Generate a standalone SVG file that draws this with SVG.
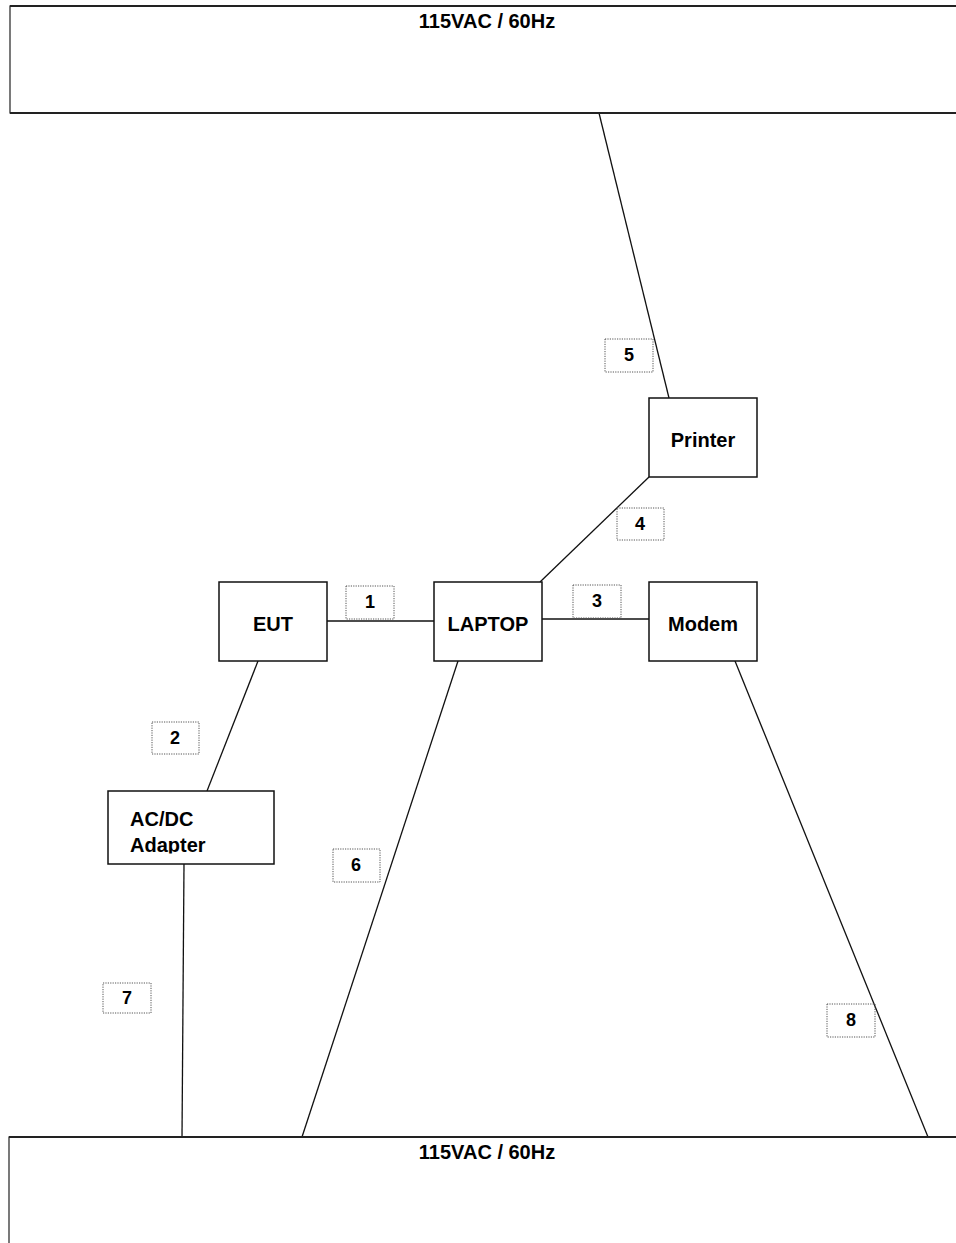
<svg xmlns="http://www.w3.org/2000/svg" width="956" height="1243" viewBox="0 0 956 1243">
<style>
.node{fill:#fff;stroke:#111;stroke-width:1.5}
.pwr{fill:#fff;stroke:#222;stroke-width:1.2}
.pwrtop{stroke:#222;stroke-width:2.2}
.t{font-family:"Liberation Sans",Arial,sans-serif;font-weight:bold;font-size:20px;fill:#000;text-anchor:middle}
.tl{font-family:"Liberation Sans",Arial,sans-serif;font-weight:bold;font-size:20px;fill:#000}
.lb{fill:none;stroke:#555;stroke-width:1;stroke-dasharray:1.2 1.2}
.lt{font-family:"Liberation Sans",Arial,sans-serif;font-weight:bold;font-size:18px;fill:#000;text-anchor:middle}
.c{stroke:#111;stroke-width:1.3;fill:none}
</style>
<defs>
<clipPath id="adclip"><rect x="108" y="791" width="166" height="62.5"/></clipPath>
</defs>
<rect width="956" height="1243" fill="#fff"/>
<g id="connectors">
<line class="c" x1="599" y1="113" x2="669" y2="398"/>
<line class="c" x1="649" y1="477" x2="540" y2="582"/>
<line class="c" x1="327" y1="621" x2="434" y2="621"/>
<line class="c" x1="542" y1="619" x2="649" y2="619"/>
<line class="c" x1="258" y1="661" x2="207" y2="791"/>
<line class="c" x1="184" y1="864" x2="182" y2="1137"/>
<line class="c" x1="458" y1="661" x2="302" y2="1137"/>
<line class="c" x1="735" y1="661" x2="928" y2="1137"/>
</g>
<g id="power-top">
<rect class="pwr" x="10" y="6" width="960" height="107"/>
<line class="pwrtop" x1="10" y1="6" x2="956" y2="6"/>
<line class="pwrtop" x1="10" y1="113" x2="956" y2="113"/>
<text class="t" x="487" y="28">115VAC / 60Hz</text>
</g>
<g id="power-bottom">
<rect class="pwr" x="9" y="1137" width="960" height="120"/>
<line class="pwrtop" x1="9" y1="1137" x2="956" y2="1137"/>
<text class="t" x="487" y="1159">115VAC / 60Hz</text>
</g>
<g id="printer">
<rect class="node" x="649" y="398" width="108" height="79"/>
<text class="t" x="703" y="447">Printer</text>
</g>
<g id="eut">
<rect class="node" x="219" y="582" width="108" height="79"/>
<text class="t" x="273" y="631">EUT</text>
</g>
<g id="laptop">
<rect class="node" x="434" y="582" width="108" height="79"/>
<text class="t" x="488" y="631">LAPTOP</text>
</g>
<g id="modem">
<rect class="node" x="649" y="582" width="108" height="79"/>
<text class="t" x="703" y="631">Modem</text>
</g>
<g id="adapter">
<rect class="node" x="108" y="791" width="166" height="73"/>
<g clip-path="url(#adclip)">
<text class="tl" x="130" y="826">AC/DC</text>
<text class="tl" x="130" y="852">Adapter</text>
</g>
</g>
<g id="label-1"><rect class="lb" x="346" y="586" width="48" height="33"/><text class="lt" x="370" y="608">1</text></g>
<g id="label-2"><rect class="lb" x="152" y="722" width="47" height="32"/><text class="lt" x="175" y="744">2</text></g>
<g id="label-3"><rect class="lb" x="573" y="585" width="48" height="33"/><text class="lt" x="597" y="607">3</text></g>
<g id="label-4"><rect class="lb" x="617" y="508" width="47" height="32"/><text class="lt" x="640" y="530">4</text></g>
<g id="label-5"><rect class="lb" x="605" y="339" width="48" height="33"/><text class="lt" x="629" y="361">5</text></g>
<g id="label-6"><rect class="lb" x="333" y="849" width="47" height="33"/><text class="lt" x="356" y="871">6</text></g>
<g id="label-7"><rect class="lb" x="103" y="983" width="48" height="30"/><text class="lt" x="127" y="1004">7</text></g>
<g id="label-8"><rect class="lb" x="827" y="1004" width="48" height="33"/><text class="lt" x="851" y="1026">8</text></g>
</svg>
